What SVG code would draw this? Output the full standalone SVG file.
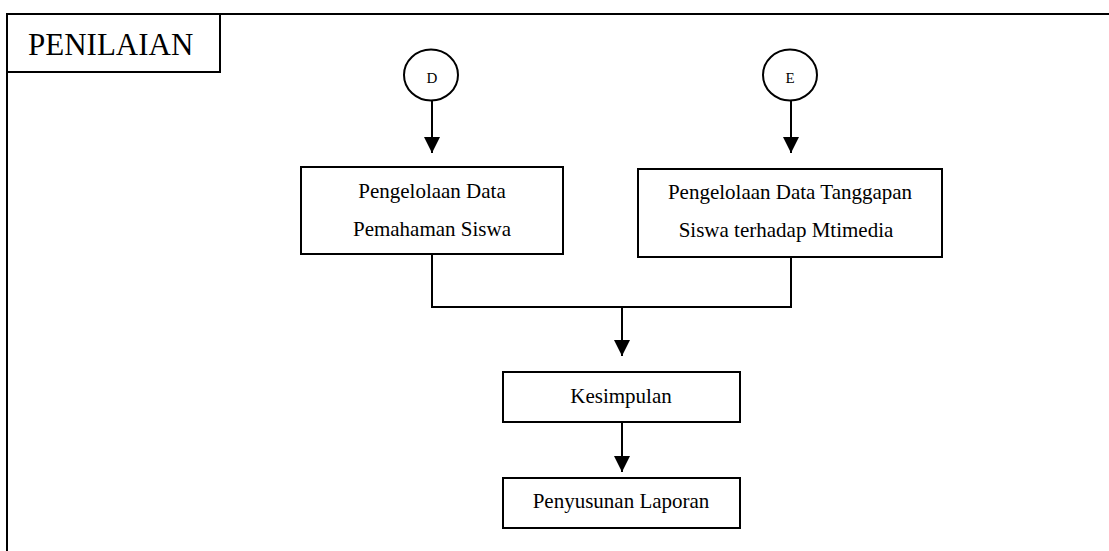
<svg xmlns="http://www.w3.org/2000/svg" width="1109" height="551" viewBox="0 0 1109 551">
  <style>
    .frame { fill: none; stroke: #000; stroke-width: 2; }
    .box { fill: #fff; stroke: #000; stroke-width: 2; }
    .lbl { font-family: "Liberation Serif", "Times New Roman", serif; font-size: 21px; fill: #000; text-anchor: middle; }
    .conn { fill: none; stroke: #000; stroke-width: 2; }
    .title { font-family: "Liberation Serif", "Times New Roman", serif; font-size: 31px; fill: #000; }
    .ref { font-family: "Liberation Serif", "Times New Roman", serif; font-size: 15px; fill: #000; text-anchor: middle; }
  </style>
  <defs>
    <marker id="arrow" markerUnits="userSpaceOnUse" markerWidth="16" markerHeight="16" refX="16" refY="8" orient="auto" viewBox="0 0 16 16">
      <path d="M0,0 L16,8 L0,16 z" fill="#000"/>
    </marker>
  </defs>

  <rect width="1109" height="551" fill="#fff"/>

  <!-- outer frame (top and left edges) -->
  <path class="frame" d="M7,551 V14 H1109"/>

  <g id="title">
    <rect class="box" x="7" y="14" width="213" height="58"/>
    <text class="title" x="28" y="55">PENILAIAN</text>
  </g>

  <g id="connectors">
    <line class="conn" x1="432" y1="101" x2="432" y2="153" marker-end="url(#arrow)"/>
    <line class="conn" x1="791" y1="101" x2="791" y2="153" marker-end="url(#arrow)"/>
    <path class="conn" d="M432,254 V307 H791 V257"/>
    <line class="conn" x1="622" y1="307" x2="622" y2="356" marker-end="url(#arrow)"/>
    <line class="conn" x1="622" y1="422" x2="622" y2="472" marker-end="url(#arrow)"/>
  </g>

  <g id="ref-d">
    <ellipse class="box" cx="431" cy="75" rx="27" ry="25.5"/>
    <text class="ref" x="432" y="83">D</text>
  </g>

  <g id="ref-e">
    <ellipse class="box" cx="790" cy="75" rx="27" ry="25.5"/>
    <text class="ref" x="790" y="83">E</text>
  </g>

  <g id="pengelolaan-pemahaman">
    <rect class="box" x="301" y="167" width="262" height="87"/>
    <text class="lbl" x="432" y="198">Pengelolaan Data</text>
    <text class="lbl" x="432" y="236">Pemahaman Siswa</text>
  </g>

  <g id="pengelolaan-tanggapan">
    <rect class="box" x="638" y="169" width="304" height="88"/>
    <text class="lbl" x="790" y="199">Pengelolaan Data Tanggapan</text>
    <text class="lbl" x="786" y="237">Siswa terhadap Mtimedia</text>
  </g>

  <g id="kesimpulan">
    <rect class="box" x="503" y="372" width="237" height="50"/>
    <text class="lbl" x="621" y="403">Kesimpulan</text>
  </g>

  <g id="penyusunan-laporan">
    <rect class="box" x="503" y="478" width="237" height="50"/>
    <text class="lbl" x="621" y="508">Penyusunan Laporan</text>
  </g>
</svg>
